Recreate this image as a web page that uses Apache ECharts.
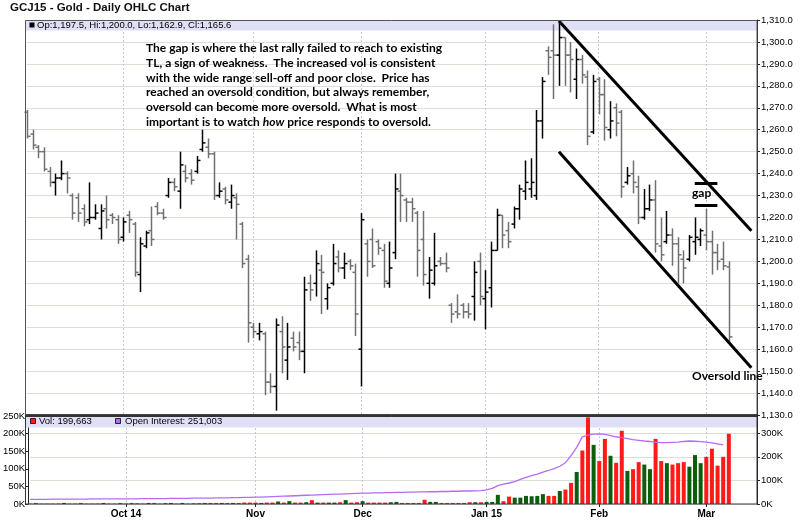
<!DOCTYPE html>
<html>
<head>
<meta charset="utf-8">
<script src="https://cdn.jsdelivr.net/npm/echarts@6/dist/echarts.min.js"></script>
<style>
  html, body { margin: 0; padding: 0; background: #fff; }
  #chart { width: 800px; height: 520px; }
</style>
</head>
<body>
<div id="chart"></div>
<script>
// ---- sessions -------------------------------------------------------------
const firstSession = '2014-09-08';
const sessionCount = 125;     // sessions with prices
const padSessions = 5;        // empty room on the right of the last bar
const holidays = ['2014-11-27', '2014-12-25', '2015-01-01', '2015-01-19', '2015-02-16'];
const monthStarts = ['2014-10-01', '2014-11-03', '2014-12-01', '2015-01-02', '2015-02-02', '2015-03-02'];
const monthLabels = ['Oct 14', 'Nov', 'Dec', 'Jan 15', 'Feb', 'Mar'];

// ---- daily prices (GCJ15) -----------------------------------------------
const opens = [
  1268, 1258, 1252, 1250, 1241, 1236, 1238, 1240, 1230, 1229, 1224, 1219, 1220, 1215, 1224, 1221, 1219,
  1211, 1221, 1217, 1194, 1207, 1214, 1225, 1222, 1230, 1236, 1232, 1241, 1240, 1241, 1251, 1252, 1249, 1230, 1233, 1227, 1229, 1217, 1201,
  1170, 1167, 1167, 1145, 1143, 1168, 1155, 1165, 1163, 1159, 1190, 1190, 1196, 1183, 1190, 1202, 1197, 1200, 1195,
  1160, 1208, 1210, 1209, 1205, 1190, 1204, 1232, 1228, 1227, 1222, 1210, 1190, 1190, 1200, 1199, 1180, 1177, 1180, 1177, 1184, 1200,
  1183, 1188, 1205, 1221, 1214, 1217, 1224, 1232, 1233, 1230, 1264, 1296, 1296, 1294, 1302, 1294, 1283, 1292, 1284, 1259,
  1283, 1276, 1260, 1270, 1268, 1236, 1240, 1234, 1220, 1224, 1228, 1207, 1209, 1212, 1208, 1201, 1201, 1209, 1210,
  1212, 1209, 1204, 1201, 1197.5
];
const highs = [
  1269, 1260, 1253, 1252, 1243, 1240, 1246, 1241, 1231, 1231, 1226, 1236, 1226, 1226, 1230, 1222, 1221,
  1220, 1223, 1218, 1211, 1214, 1225, 1227, 1224, 1238, 1238, 1250, 1244, 1242, 1248, 1260, 1256, 1250, 1236, 1234, 1235, 1231, 1218, 1203,
  1172, 1172, 1168, 1149, 1174, 1175, 1172, 1168, 1168, 1193, 1194, 1205, 1203, 1190, 1208, 1205, 1204, 1201, 1199,
  1222, 1210, 1215, 1210, 1208, 1209, 1240, 1240, 1229, 1229, 1223, 1223, 1202, 1213, 1202, 1204, 1181, 1185, 1181, 1181, 1200, 1204,
  1196, 1209, 1224, 1221, 1218, 1225, 1235, 1246, 1247, 1269, 1284, 1298, 1308, 1309, 1302, 1300, 1297, 1294, 1287, 1285,
  1284, 1283, 1273, 1272, 1269, 1243, 1246, 1239, 1233, 1235, 1237, 1220, 1223, 1215, 1211, 1205, 1212, 1220, 1215,
  1224, 1214, 1208, 1209, 1200.0
];
const lows = [
  1256, 1251, 1247, 1241, 1234, 1230, 1237, 1231, 1219, 1218, 1216, 1217, 1219, 1210, 1215, 1217, 1208,
  1209, 1213, 1193, 1186, 1206, 1207, 1221, 1219, 1229, 1232, 1224, 1236, 1235, 1240, 1250, 1247, 1228, 1229, 1226, 1224, 1210, 1197, 1163,
  1165, 1164, 1139, 1140, 1132, 1149, 1146, 1159, 1155, 1149, 1182, 1184, 1176, 1178, 1189, 1195, 1192, 1196, 1166,
  1143, 1193, 1197, 1203, 1188, 1188, 1201, 1218, 1218, 1218, 1193, 1189, 1183, 1189, 1198, 1195, 1172, 1174, 1174, 1174, 1173, 1180,
  1169, 1179, 1205, 1206, 1206, 1215, 1219, 1228, 1229, 1228, 1256, 1285, 1274, 1280, 1280, 1277, 1274, 1281, 1253, 1258,
  1267, 1255, 1256, 1257, 1229, 1235, 1231, 1217, 1219, 1223, 1204, 1200, 1208, 1198, 1190, 1190, 1200, 1203, 1207,
  1205, 1194, 1196, 1196, 1162.9
];
const closes = [
  1257, 1253, 1250, 1242, 1236, 1238, 1240, 1238, 1222, 1222, 1218, 1220, 1222, 1223, 1219, 1220, 1210,
  1218, 1219, 1195, 1208, 1213, 1210, 1222, 1220, 1236, 1234, 1244, 1238, 1237, 1246, 1254, 1249, 1230, 1232, 1228, 1230, 1226, 1199, 1172,
  1168, 1168, 1145, 1143, 1171, 1161, 1161, 1161, 1159, 1187, 1187, 1199, 1195, 1188, 1199, 1197, 1199, 1198, 1176,
  1219, 1200, 1198, 1206, 1191, 1197, 1233, 1230, 1227, 1224, 1205, 1194, 1196, 1198, 1199, 1197, 1176, 1176, 1177, 1176, 1195, 1184,
  1186, 1205, 1221, 1212, 1209, 1224, 1233, 1236, 1236, 1264, 1282, 1293, 1294, 1302, 1294, 1292, 1292, 1285, 1257, 1282,
  1276, 1261, 1264, 1263, 1234, 1239, 1236, 1220, 1224, 1228, 1208, 1203, 1212, 1208, 1203, 1197, 1211, 1211, 1214,
  1209, 1204, 1200, 1198, 1165.6
];

// ---- volume and open interest, thousands of contracts -------------------
const volumeK = [
  1, 3, 1, 1, 1, 1, 3, 1, 1, 3, 1, 1, 1, 3, 1, 1, 3,
  1, 3, 2, 1, 3, 3, 1, 3, 3, 1, 3, 1, 2, 2, 3, 3, 3, 3, 3, 3, 3, 4, 4,
  4, 3, 4, 4, 7, 4, 8, 4, 4, 5, 11, 4, 4, 4, 4, 5, 11, 4, 5,
  8, 4, 4, 4, 4, 5, 6, 3, 3, 3, 3, 12, 6, 6, 3, 3, 3, 3, 3, 5, 5, 5,
  6, 6, 26, 8, 21, 18, 18, 23, 22, 23, 28, 23, 23, 37, 41, 60, 91, 152, 246, 168,
  122, 185, 137, 117, 208, 94, 99, 119, 112, 99, 185, 122, 116, 112, 116, 119, 106, 139, 116,
  134, 157, 109, 134, 199.663
];
const openInterestK = [
  20, 20, 20, 20, 21, 21, 21, 21, 21, 21, 21, 22, 22, 22, 22, 22, 22,
  22, 22, 22, 23, 23, 23, 23, 23, 24, 24, 24, 24, 25, 25, 25, 25, 26, 26, 26, 27, 27, 28, 28,
  29, 29, 30, 31, 32, 33, 34, 35, 36, 37, 38, 39, 40, 41, 42, 42, 43, 44, 45,
  46, 46, 47, 47, 48, 48, 49, 49, 50, 50, 51, 51, 52, 52, 53, 53, 54, 54, 55, 55, 56, 57,
  60, 66, 78, 84, 89, 95, 104, 113, 120, 127, 135, 142, 150, 160, 175, 205, 240, 285, 292, 296,
  297, 295, 290, 285, 281, 277, 273, 270, 267, 265, 261, 260, 260, 261, 262, 265, 267, 266, 264,
  262, 259, 255, 251.003, null
];

// ---- drawn annotations ---------------------------------------------------
const upperTrendLine = [[94, 1309.5], [128, 1214.0]];   // [session index, price]
const lowerTrendLine = [[94, 1250.0], [128, 1151.5]];
const gapSessions = [118, 122];
const gapPrices = [1235.5, 1225.8];
const noteLines = [
  'The gap is where the last rally failed to reach to existing',
  'TL, a sign of weakness.  The increased vol is consistent',
  'with the wide range sell-off and poor close.  Price has',
  'reached an oversold condition, but always remember,',
  'oversold can become more oversold.  What is most',
  'important is to watch {i|how} price responds to oversold.'
];

// ---- helpers -------------------------------------------------------------
function tradingDays(start, n) {
  const out = [];
  const d = new Date(start + 'T00:00:00Z');
  while (out.length < n) {
    const s = d.toISOString().slice(0, 10);
    const wd = d.getUTCDay();
    if (wd !== 0 && wd !== 6 && holidays.indexOf(s) < 0) out.push(s);
    d.setUTCDate(d.getUTCDate() + 1);
  }
  return out;
}
const fmt1 = v => Number(v).toLocaleString('en-US', { minimumFractionDigits: 1, maximumFractionDigits: 1 });
const fmt0 = v => Math.round(v).toLocaleString('en-US');

const dates = tradingDays(firstSession, sessionCount + padSessions);
const isMonthStart = (idx, val) => monthStarts.indexOf(val) >= 0;
const ohlcRows = opens.map((o, i) => [i, o, highs[i], lows[i], closes[i]]);
const last = sessionCount - 1;
let lastOI = null;
for (let i = openInterestK.length - 1; i >= 0; i--) { if (openInterestK[i] != null) { lastOI = openInterestK[i]; break; } }

const UP_BAR = '#000000', DOWN_BAR = '#707070';
const UP_VOL = '#0b5e0b', DOWN_VOL = '#ff1a1a', OI_COLOR = '#b56cf2';
const AXIS_FONT = 'Liberation Sans';
const NOTE_FONT = 'Lato';

const chart = echarts.init(document.getElementById('chart'), null, { renderer: 'canvas' });

const xAxisBase = {
  type: 'category',
  data: dates,
  boundaryGap: false,
  axisLine: { show: false },
  splitLine: { show: true, interval: isMonthStart, lineStyle: { color: '#c9c9c9', type: [2, 2], width: 1 } }
};

chart.setOption({
  animation: false,
  backgroundColor: '#ffffff',
  grid: [
    { left: 27, right: 43, top: 20, height: 395 },
    { left: 27, right: 43, top: 416, height: 88 }
  ],
  xAxis: [
    Object.assign({}, xAxisBase, { gridIndex: 0, axisTick: { show: false }, axisLabel: { show: false } }),
    Object.assign({}, xAxisBase, {
      gridIndex: 1,
      axisTick: { show: true, interval: isMonthStart, length: 3, lineStyle: { color: '#222' } },
      axisLabel: {
        show: true, interval: isMonthStart, margin: 5,
        fontFamily: AXIS_FONT, fontSize: 10, fontWeight: 'bold', color: '#000',
        formatter: v => monthLabels[monthStarts.indexOf(v)]
      }
    })
  ],
  yAxis: [
    {
      type: 'value', gridIndex: 0, position: 'right', min: 1130, max: 1310, interval: 10,
      axisLine: { show: true, lineStyle: { color: '#222' } },
      axisTick: { show: true, length: 3, lineStyle: { color: '#222' } },
      axisLabel: { fontFamily: AXIS_FONT, fontSize: 9.5, color: '#000', margin: 4, formatter: fmt1 },
      splitLine: { show: true, lineStyle: { color: '#dadfd6', width: 1 } }
    },
    {
      type: 'value', gridIndex: 1, position: 'left', offset: 2, min: 0, max: 250, interval: 50,
      axisLine: { show: true, lineStyle: { color: '#222' } },
      axisTick: { show: true, length: 3, lineStyle: { color: '#222' } },
      axisLabel: { fontFamily: AXIS_FONT, fontSize: 9.5, color: '#000', margin: 3, formatter: v => v + 'K' },
      splitLine: { show: false }
    },
    {
      type: 'value', gridIndex: 1, position: 'right', min: 0, max: 373, interval: 100,
      axisLine: { show: true, lineStyle: { color: '#222' } },
      axisTick: { show: true, length: 3, lineStyle: { color: '#222' } },
      axisLabel: { fontFamily: AXIS_FONT, fontSize: 9.5, color: '#000', margin: 4, showMaxLabel: false, formatter: v => v + 'K' },
      splitLine: { show: true, lineStyle: { color: '#dadfd6', width: 1 } }
    }
  ],
  series: [
    {
      name: 'GCJ15',
      type: 'custom',
      xAxisIndex: 0, yAxisIndex: 0,
      encode: { x: 0, y: [1, 2, 3, 4] },
      data: ohlcRows,
      z: 3,
      renderItem: function (params, api) {
        const i = api.value(0);
        const o = api.value(1), h = api.value(2), l = api.value(3), c = api.value(4);
        const pO = api.coord([i, o]);
        const x = Math.round(pO[0]) + 0.5;
        const yH = api.coord([i, h])[1], yL = api.coord([i, l])[1], yC = api.coord([i, c])[1];
        const st = { stroke: c >= o ? UP_BAR : DOWN_BAR, lineWidth: 1.5 };
        return {
          type: 'group',
          children: [
            { type: 'line', shape: { x1: x, y1: yH, x2: x, y2: yL }, style: st },
            { type: 'line', shape: { x1: x - 3, y1: pO[1], x2: x, y2: pO[1] }, style: st },
            { type: 'line', shape: { x1: x, y1: yC, x2: x + 3, y2: yC }, style: st }
          ]
        };
      },
      markLine: {
        silent: true,
        animation: false,
        symbol: 'none',
        label: { show: false },
        lineStyle: { color: '#000', width: 3, type: 'solid' },
        data: [
          [{ coord: [dates[upperTrendLine[0][0]], upperTrendLine[0][1]] }, { coord: [dates[upperTrendLine[1][0]], upperTrendLine[1][1]] }],
          [{ coord: [dates[lowerTrendLine[0][0]], lowerTrendLine[0][1]] }, { coord: [dates[lowerTrendLine[1][0]], lowerTrendLine[1][1]] }],
          [{ coord: [dates[gapSessions[0]], gapPrices[0]] }, { coord: [dates[gapSessions[1]], gapPrices[0]] }],
          [{ coord: [dates[gapSessions[0]], gapPrices[1]] }, { coord: [dates[gapSessions[1]], gapPrices[1]] }],
          {
            yAxis: closes[last],
            lineStyle: { opacity: 0, width: 0 },
            label: {
              show: true, position: 'end', distance: 2,
              formatter: fmt1(closes[last]),
              backgroundColor: '#000', color: '#fff', padding: [1, 1, 0, 2],
              fontFamily: AXIS_FONT, fontSize: 9.5
            }
          }
        ]
      }
    },
    {
      name: 'Vol',
      type: 'bar',
      xAxisIndex: 1, yAxisIndex: 1,
      barWidth: 4,
      data: volumeK,
      z: 3,
      itemStyle: { color: p => (closes[p.dataIndex] >= opens[p.dataIndex] ? UP_VOL : DOWN_VOL) }
    },
    {
      name: 'Open Interest',
      type: 'line',
      xAxisIndex: 1, yAxisIndex: 2,
      data: openInterestK,
      symbol: 'none',
      z: 4,
      lineStyle: { color: OI_COLOR, width: 1.3 },
      connectNulls: false
    }
  ],
  graphic: [
    // panel header bands
    { type: 'rect', z: 1, shape: { x: 26, y: 20.5, width: 731, height: 10 }, style: { fill: '#dfdff6' } },
    { type: 'rect', z: 1, shape: { x: 26, y: 416.5, width: 731, height: 11 }, style: { fill: '#dfdff6' } },
    // panel frames
    { type: 'rect', z: 10, shape: { x: 25.5, y: 20.5, width: 731.5, height: 394 }, style: { fill: null, stroke: '#555', lineWidth: 1 } },
    { type: 'line', z: 10, shape: { x1: 25, y1: 415.5, x2: 757, y2: 415.5 }, style: { stroke: '#333', lineWidth: 2 } },
    { type: 'rect', z: 10, shape: { x: 25.5, y: 416.5, width: 731.5, height: 87.5 }, style: { fill: null, stroke: '#333', lineWidth: 1 } },
    // title
    { type: 'text', z: 10, left: 10, top: 2, style: { text: 'GCJ15 - Gold - Daily OHLC Chart', fontFamily: AXIS_FONT, fontSize: 11.5, fontWeight: 'bold', fill: '#111' } },
    // price header
    { type: 'rect', z: 10, shape: { x: 29.5, y: 22.5, width: 5, height: 5 }, style: { fill: '#000' } },
    {
      type: 'text', z: 10, left: 37, top: 20.5,
      style: {
        text: 'Op:' + fmt1(opens[last]) + ', Hi:' + fmt1(highs[last]) + ', Lo:' + fmt1(lows[last]) + ', Cl:' + fmt1(closes[last]),
        fontFamily: AXIS_FONT, fontSize: 9.5, fill: '#000'
      }
    },
    // volume header
    { type: 'rect', z: 10, shape: { x: 30.5, y: 418.5, width: 5, height: 5 }, style: { fill: DOWN_VOL, stroke: '#000', lineWidth: 0.8 } },
    { type: 'text', z: 10, left: 39, top: 416.5, style: { text: 'Vol: ' + fmt0(volumeK[last] * 1000), fontFamily: AXIS_FONT, fontSize: 9.5, fill: '#000' } },
    { type: 'rect', z: 10, shape: { x: 115.5, y: 418.5, width: 5, height: 5 }, style: { fill: OI_COLOR, stroke: '#000', lineWidth: 0.8 } },
    { type: 'text', z: 10, left: 125, top: 416.5, style: { text: 'Open Interest: ' + fmt0(lastOI * 1000), fontFamily: AXIS_FONT, fontSize: 9.5, fill: '#000' } },
    // commentary
    {
      type: 'text', z: 10, left: 146, top: 41,
      style: {
        text: noteLines.join('\n'),
        fontFamily: NOTE_FONT, fontSize: 12, fontWeight: 'bold', fill: '#000', lineHeight: 14.7,
        rich: { i: { fontFamily: NOTE_FONT, fontSize: 12, fontWeight: 'bold', fontStyle: 'italic', fill: '#000', lineHeight: 14.7 } }
      }
    },
    { type: 'text', z: 10, left: 692, top: 187, style: { text: 'gap', fontFamily: NOTE_FONT, fontSize: 12, fontWeight: 'bold', fill: '#000' } },
    { type: 'text', z: 10, left: 692, top: 370, style: { text: 'Oversold line', fontFamily: NOTE_FONT, fontSize: 12, fontWeight: 'bold', fill: '#000' } }
  ]
});
</script>
</body>
</html>
